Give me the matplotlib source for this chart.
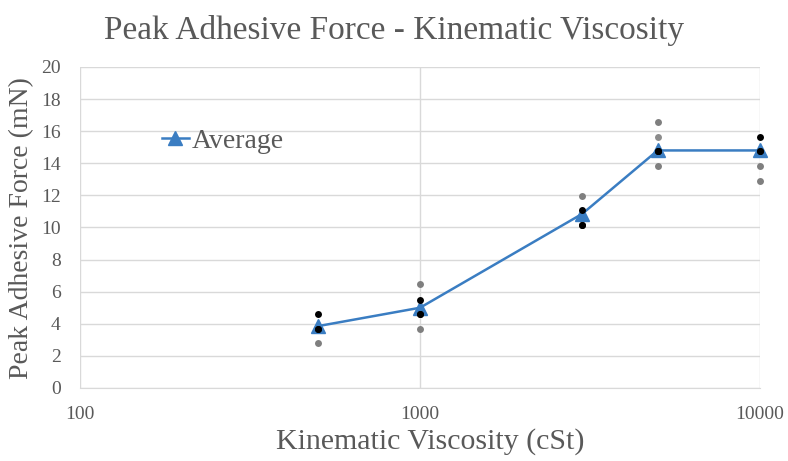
import numpy as np
import matplotlib.pyplot as plt

plt.rcParams['font.family'] = ['Liberation Serif', 'DejaVu Serif']

viscosity = [500, 1000, 3000, 5000, 10000]
average = [3.85, 5.0, 10.85, 14.8, 14.8]
trial_1 = [4.6, 5.5, 11.1, 14.77, 15.66]
trial_2 = [3.65, 4.6, 10.15, 14.77, 14.77]
trial_3 = [2.8, 3.65, 11.96, 13.8, 13.8]
trial_4 = [None, 6.45, None, 16.55, 12.9]
trial_5 = [None, None, None, 15.66, None]

fig = plt.figure(figsize=(7.88, 4.61), dpi=100)
ax = fig.add_axes([0.1015, 0.1584, 0.863, 0.6963])

def pts(vals):
    xs = [x for x, v in zip(viscosity, vals) if v is not None]
    ys = [v for v in vals if v is not None]
    return xs, ys

for vals, col in [(trial_3, '#7f7f7f'), (trial_4, '#7f7f7f'), (trial_5, '#8c8c8c'),
                  (trial_1, '#000000'), (trial_2, '#000000')]:
    xs, ys = pts(vals)
    ax.scatter(xs, ys, s=25, color=col, zorder=3, linewidths=0, clip_on=False)

ax.plot(viscosity, average, color='#3a7dc2', lw=1.8, marker='^', ms=10,
        label='Average', zorder=2, clip_on=False)
# black dots drawn over the triangles where they overlap
xs, ys = pts(trial_2)
ax.scatter(xs, ys, s=25, color='#000000', zorder=4, linewidths=0, clip_on=False)

ax.set_xscale('log')
ax.set_xlim(100, 10000)
ax.set_ylim(0, 20)
ax.set_yticks(np.arange(0, 21, 2))
ax.set_xticks([100, 1000, 10000])
ax.set_xticklabels(['100', '1000', '10000'])
ax.minorticks_off()
ax.grid(True, color='#d9d9d9', lw=1)
ax.set_axisbelow(True)
for s in ['top', 'right', 'left']:
    ax.spines[s].set_visible(False)
ax.spines['bottom'].set_color('#d9d9d9')
ax.tick_params(length=0, labelsize=14, colors='#595959')
ax.tick_params(axis='x', pad=13)
ax.tick_params(axis='y', pad=14)

fig.text(0.5, 1 - 39 / 461, 'Peak Adhesive Force - Kinematic Viscosity',
         fontsize=24, color='#595959', ha='center', va='baseline')
ax.set_xlabel('Kinematic Viscosity (cSt)', fontsize=21.5, color='#595959')
ax.xaxis.set_label_coords(0.515, -0.125)
fig.text(22 / 788, 1 - 228 / 461, 'Peak Adhesive Force (mN)', fontsize=20,
         color='#595959', rotation=90, ha='center', va='center')

ax.legend(loc='center left', bbox_to_anchor=(0.12, 0.77), frameon=False,
          fontsize=20, labelcolor='#595959', handlelength=1.0, handletextpad=0.1,
          borderpad=0, borderaxespad=0)

fig.savefig('out.png', dpi=100)
